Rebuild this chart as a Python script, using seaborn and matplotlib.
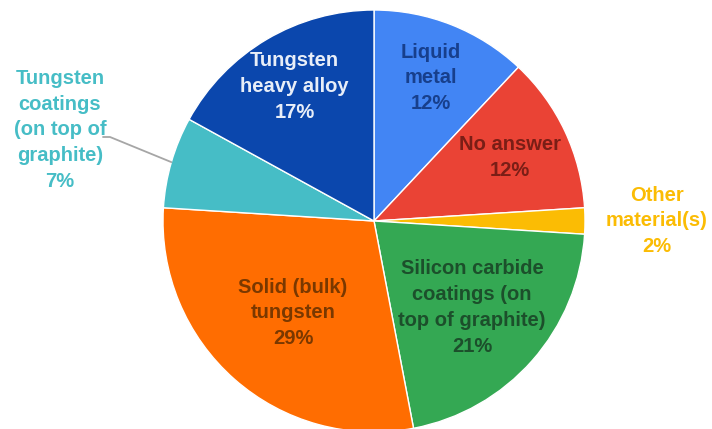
import numpy as np
import matplotlib.pyplot as plt
import seaborn as sns

# Data (percent of answers)
categories = ['Liquid\nmetal', 'No answer', 'Other\nmaterial(s)',
              'Silicon carbide\ncoatings (on\ntop of graphite)',
              'Solid (bulk)\ntungsten',
              'Tungsten\ncoatings\n(on top of\ngraphite)',
              'Tungsten\nheavy alloy']
values = [12, 12, 2, 21, 29, 7, 17]

slice_colors = ['#4285F4', '#EA4335', '#FBBC04', '#34A853', '#FF6D01', '#46BDC6', '#0B47AD']
label_colors = ['#173F8C', '#7A1E16', '#FBBC04', '#1C4F2B', '#7A3800', '#46BDC6', '#E8EEF8']
label_radius = [0.73, 0.71, 1.34, 0.62, 0.58, 1.55, 0.74]

sns.set_theme(style='white')
plt.rcParams['font.family'] = ['Liberation Sans', 'DejaVu Sans']

fig = plt.figure(figsize=(7.12, 4.29), dpi=100)
ax = fig.add_axes([0, 0, 1, 1])

cx, cy, r = 374, 208, 211
wedges, _ = ax.pie(values, colors=slice_colors, startangle=90, counterclock=False,
                   center=(cx, cy), radius=r, frame=True)
ax.set_xlim(0, 712)
ax.set_ylim(0, 429)
ax.axis('off')

total = sum(values)
for w, name, v, col, d in zip(wedges, categories, values, label_colors, label_radius):
    mid = np.deg2rad((w.theta1 + w.theta2) / 2)
    x = cx + d * r * np.cos(mid)
    y = cy + d * r * np.sin(mid)
    ax.text(x, y, f'{name}\n{round(v / total * 100)}%', ha='center', va='center',
            color=col, fontsize=14.5, fontweight='bold', linespacing=1.45)

# leader line for the small teal slice
w = wedges[5]
mid = np.deg2rad((w.theta1 + w.theta2) / 2)
ex, ey = cx + r * np.cos(mid), cy + r * np.sin(mid)
ax.plot([103, 110, ex], [292, 292, ey], color='#A6A6A6', lw=1.3)

fig.savefig('out.png', dpi=100)
